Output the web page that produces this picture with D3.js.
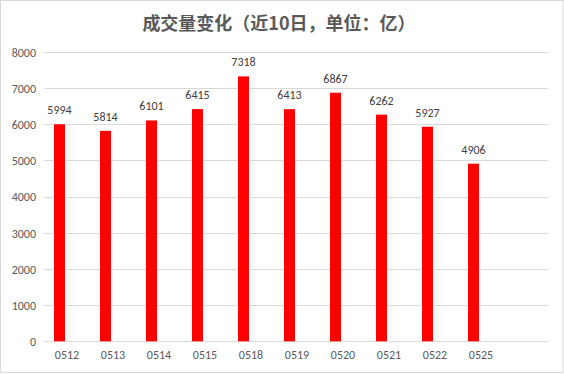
<!DOCTYPE html>
<html>
<head>
<meta charset="utf-8">
<script src="https://cdn.jsdelivr.net/npm/d3@7"></script>
<style>
  body { margin: 0; background: #fff; }
  svg { display: block; }
</style>
</head>
<body>
<div class="chart-container"></div>
<script>
// Data
const days = ["0512", "0513", "0514", "0515", "0518", "0519", "0520", "0521", "0522", "0525"];
const volumes = [5994, 5814, 6101, 6415, 7318, 6413, 6867, 6262, 5927, 4906];
const yTicks = [0, 1000, 2000, 3000, 4000, 5000, 6000, 7000, 8000];

const w = 564, h = 374;
const plotLeft = 44, plotRight = 548.5, plotTop = 51.7, plotBottom = 341.3;
const font = "Calibri, Carlito, 'Liberation Sans', Arial, sans-serif";

const svg = d3.select(".chart-container").append("svg")
    .attr("width", w)
    .attr("height", h);

// Outer frame
svg.append("rect")
    .attr("x", 0.5).attr("y", 0.5)
    .attr("width", w - 1.5).attr("height", h - 2)
    .attr("fill", "#fff")
    .attr("stroke", "#d9d9d9");

// Title
svg.append("text")
    .attr("x", 279)
    .attr("y", 30)
    .attr("text-anchor", "middle")
    .attr("font-family", "'Noto Sans CJK SC', sans-serif")
    .attr("font-size", 18)
    .attr("font-weight", "bold")
    .attr("fill", "#595959")
    .text("成交量变化（近10日，单位：亿）");

// Scales
const x = d3.scaleBand()
    .domain(days)
    .range([plotLeft, plotLeft + 46 * days.length]);

const y = d3.scaleLinear()
    .domain([0, 8000])
    .range([plotBottom, plotTop]);

// Grid lines
svg.append("g")
    .selectAll("line")
    .data(yTicks)
    .enter()
    .append("line")
    .attr("x1", plotLeft)
    .attr("x2", plotRight)
    .attr("y1", (d) => Math.round(y(d)) + 0.5)
    .attr("y2", (d) => Math.round(y(d)) + 0.5)
    .attr("stroke", "#d9d9d9")
    .attr("stroke-width", 1);

// Y axis labels
const yAxis = svg.append("g")
    .attr("transform", `translate(${plotLeft - 8}, 0.5)`)
    .call(d3.axisLeft(y).tickValues(yTicks).tickSize(0).tickPadding(0).tickFormat(d3.format("d")));
yAxis.select(".domain").remove();
yAxis.selectAll("text")
    .attr("font-family", font)
    .attr("font-size", 12)
    .attr("fill", "#595959");

// X axis labels
const xAxis = svg.append("g")
    .attr("transform", `translate(0, ${plotBottom})`)
    .call(d3.axisBottom(x).tickSize(0).tickPadding(9));
xAxis.select(".domain").remove();
xAxis.selectAll("text")
    .attr("font-family", font)
    .attr("font-size", 12)
    .attr("fill", "#595959");

// Bars (sit in the left part of each category slot)
const barX = (d) => x(d) + x.bandwidth() * 0.217;
const barW = x.bandwidth() * 0.24;

svg.selectAll(".bar")
    .data(days)
    .enter()
    .append("rect")
    .attr("class", "bar")
    .attr("x", (d) => barX(d))
    .attr("y", (d, i) => y(volumes[i]))
    .attr("width", barW)
    .attr("height", (d, i) => y(0) - y(volumes[i]))
    .attr("fill", "#ff0000");

// Value labels
svg.selectAll(".value")
    .data(days)
    .enter()
    .append("text")
    .attr("class", "value")
    .attr("x", (d) => barX(d) + barW / 2)
    .attr("y", (d, i) => y(volumes[i]) - 10)
    .attr("text-anchor", "middle")
    .attr("font-family", font)
    .attr("font-size", 12)
    .attr("fill", "#404040")
    .text((d, i) => volumes[i]);
</script>
</body>
</html>
